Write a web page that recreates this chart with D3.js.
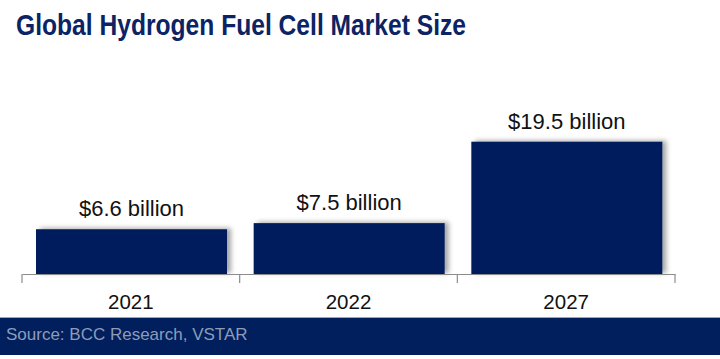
<!DOCTYPE html>
<html><head><meta charset="utf-8">
<script src="https://cdn.jsdelivr.net/npm/d3@7"></script>
<style>body{margin:0;background:#fff;}svg{display:block;}</style>
</head><body>
<svg id="c" width="720" height="359"></svg>
<script>
const categories = ["2021", "2022", "2027"];
const values = [6.6, 7.5, 19.5];
const valueLabels = ["$6.6 billion", "$7.5 billion", "$19.5 billion"];
const titleText = "Global Hydrogen Fuel Cell Market Size";
const sourceText = "Source: BCC Research, VSTAR";

const svg = d3.select("#c");
const navy = "#001f5c";

const defs = svg.append("defs");
const f = defs.append("filter").attr("id","sh").attr("x","-10%").attr("y","-20%").attr("width","130%").attr("height","140%");
f.append("feDropShadow").attr("dx",4).attr("dy",-1).attr("stdDeviation",2.5).attr("flood-color","#000").attr("flood-opacity",0.35);

svg.append("text").attr("x",16).attr("y",35)
  .attr("font-family","'Liberation Sans Narrow','Arial Narrow','Liberation Sans',Arial,sans-serif")
  .attr("font-weight","bold").attr("font-size",30).attr("fill","#0c2364")
  .attr("textLength",450).attr("lengthAdjust","spacingAndGlyphs")
  .text(titleText);

const x = d3.scaleBand().domain(categories).range([22, 675]).paddingInner(0).paddingOuter(0);
const y = d3.scaleLinear().domain([0, 19.5]).range([274, 141.7]);

const bw = 191;
svg.selectAll("rect.bar").data(values).join("rect").attr("class","bar")
  .attr("x",(d,i)=>x(categories[i]) + 14)
  .attr("y",d=>y(d)).attr("width",bw).attr("height",d=>y(0)-y(d))
  .attr("fill",navy).attr("filter","url(#sh)");

svg.selectAll("text.vl").data(values).join("text").attr("class","vl")
  .attr("x",(d,i)=>x(categories[i]) + 14 + bw/2)
  .attr("y",d=>y(d)-13)
  .attr("text-anchor","middle").attr("font-family","'Liberation Sans',Arial,sans-serif")
  .attr("font-size",22).attr("fill","#111")
  .text((d,i)=>valueLabels[i]);

const ax = svg.append("g").attr("transform","translate(0,274)")
  .call(d3.axisBottom(x).tickSize(0).tickPadding(20));
ax.select(".domain").attr("stroke","#8c8c8c").attr("stroke-width",1.2);
ax.selectAll("text").attr("font-family","'Liberation Sans',Arial,sans-serif").attr("font-size",20.5).attr("fill","#111");
const edges = [x.range()[0]].concat(categories.map(c=>x(c)+x.bandwidth()));
svg.selectAll("line.tk").data(edges).join("line").attr("class","tk")
  .attr("x1",d=>d).attr("x2",d=>d).attr("y1",274).attr("y2",283)
  .attr("stroke","#8c8c8c").attr("stroke-width",1.2);

svg.append("rect").attr("x",0).attr("y",317).attr("width",720).attr("height",38).attr("fill",navy);
svg.append("line").attr("x1",0).attr("x2",720).attr("y1",317.5).attr("y2",317.5).attr("stroke","#9aa6c0").attr("stroke-width",1);
svg.append("text").attr("x",6).attr("y",340)
  .attr("font-family","'Liberation Sans',Arial,sans-serif").attr("font-size",17).attr("fill","#8e9cb8")
  .text(sourceText);
</script>
</body></html>
